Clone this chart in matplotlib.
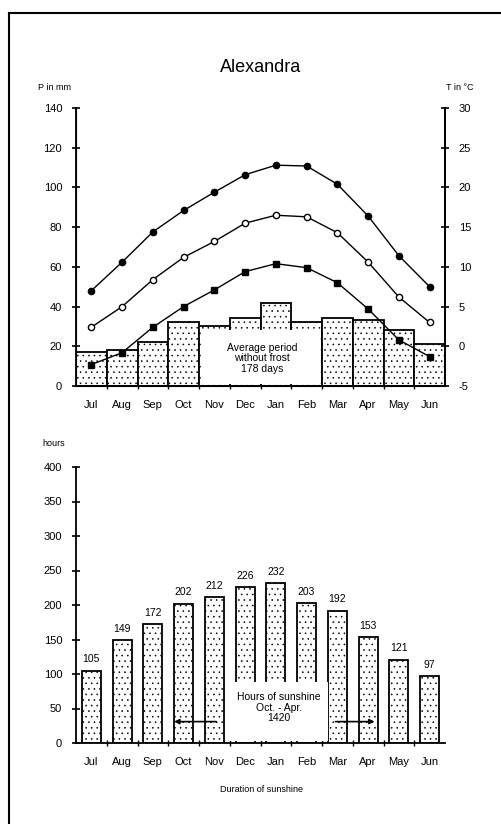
import numpy as np
import matplotlib.pyplot as plt
from matplotlib.lines import Line2D
from matplotlib.patches import Rectangle

plt.rcParams['font.family'] = ['Liberation Sans', 'DejaVu Sans']
plt.rcParams['axes.unicode_minus'] = False
plt.rcParams['hatch.color'] = '#a8a8a8'
plt.rcParams['hatch.linewidth'] = 0.4

# Data
months = ["Jul", "Aug", "Sep", "Oct", "Nov", "Dec", "Jan", "Feb", "Mar", "Apr", "May", "Jun"]
precip = [17, 18, 22, 32, 30, 34, 42, 32, 34, 33, 28, 21]          # mm
t_max = [7.0, 10.6, 14.4, 17.1, 19.4, 21.6, 22.8, 22.7, 20.4, 16.4, 11.4, 7.5]
t_mean = [2.4, 5.0, 8.4, 11.2, 13.2, 15.5, 16.5, 16.3, 14.3, 10.6, 6.2, 3.0]
t_min = [-2.3, -0.8, 2.4, 5.0, 7.1, 9.4, 10.4, 9.9, 8.0, 4.7, 0.8, -1.3]
sunshine = [105, 149, 172, 202, 212, 226, 232, 203, 192, 153, 121, 97]  # hours

x = np.arange(len(months))

W, H = 501, 824
fig = plt.figure(figsize=(W / 100, H / 100), dpi=100)

def fx(px):
    return px / W

def fy(py):
    return 1 - py / H

# outer frame (left and top edges only visible)
fig.add_artist(Line2D([fx(9), fx(9)], [fy(13), 0], color='black', lw=1.5))
fig.add_artist(Line2D([fx(9), 1], [fy(13), fy(13)], color='black', lw=1.5))

def style_axis(ax, boundaries):
    ax.set_xlim(-0.5, 11.5)
    ax.spines['top'].set_visible(False)
    for s in ax.spines.values():
        s.set_linewidth(1.3)
    ax.set_xticks(x)
    ax.set_xticklabels(months, fontsize=8)
    ax.tick_params(axis='x', which='major', length=0, pad=10)
    ax.set_xticks(boundaries, minor=True)
    ax.tick_params(axis='x', which='minor', length=5, direction='inout', width=1)
    ax.tick_params(axis='y', direction='inout', length=6, width=1.2, labelsize=8, pad=7)

# ---------------- climate chart ----------------
ax1 = fig.add_axes([fx(76), fy(386), fx(445 - 76), (386 - 108) / H])
ax1.bar(x, precip, width=1.0, color='white', edgecolor='black', linewidth=1.3,
        hatch='...', zorder=2)
ax1.set_ylim(0, 140)
ax1.set_yticks(np.arange(0, 141, 20))
style_axis(ax1, np.arange(0.5, 11.5, 1))

ax1.add_patch(Rectangle((3.55, 0.8), 3.9, 27.6, facecolor='white', edgecolor='none', zorder=3))
ax1.text(5.55, 14, "Average period\nwithout frost\n178 days", ha='center', va='center',
         fontsize=7.5, linespacing=1.05, zorder=4)

ax2 = ax1.twinx()
ax2.set_ylim(-5, 30)
ax2.set_yticks(np.arange(-5, 31, 5))
ax2.spines['top'].set_visible(False)
ax2.spines['right'].set_linewidth(1.3)
ax2.tick_params(axis='y', direction='inout', length=6, width=1.2, labelsize=8, pad=7)
ax2.plot(x, t_max, color='black', lw=1, marker='o', ms=4.5, mfc='black', zorder=5)
ax2.plot(x, t_mean, color='black', lw=1, marker='o', ms=4.5, mfc='white', mec='black', zorder=5)
ax2.plot(x, t_min, color='black', lw=1, marker='s', ms=4.5, mfc='black', zorder=5)

fig.text(fx(261), fy(67), "Alexandra", ha='center', va='center', fontsize=13)
fig.text(fx(38), fy(87), "P in mm", ha='left', va='center', fontsize=6.5)
fig.text(fx(474), fy(87), "T in °C", ha='right', va='center', fontsize=6.5)

# ---------------- sunshine chart ----------------
ax3 = fig.add_axes([fx(76), fy(743), fx(445 - 76), (743 - 467) / H])
ax3.bar(x, sunshine, width=0.62, color='white', edgecolor='black', linewidth=1.3,
        hatch='...', zorder=2)
ax3.set_ylim(0, 400)
ax3.set_yticks(np.arange(0, 401, 50))
ax3.spines['right'].set_visible(False)
style_axis(ax3, np.arange(0.5, 11.5, 1))

for xi, v in zip(x, sunshine):
    ax3.text(xi, v + 9, str(v), ha='center', va='bottom', fontsize=7.5)

ax3.add_patch(Rectangle((4.35, 3), 3.35, 86, facecolor='white', edgecolor='none', zorder=3))
ax3.text(6.1, 51, "Hours of sunshine\nOct. - Apr.\n1420", ha='center', va='center',
         fontsize=7.5, linespacing=1.05, zorder=4)
ax3.annotate("", xy=(2.6, 31), xytext=(4.15, 31), zorder=4,
             arrowprops=dict(arrowstyle='-|>', color='black', lw=1.2, mutation_scale=7))
ax3.annotate("", xy=(9.3, 31), xytext=(7.85, 31), zorder=4,
             arrowprops=dict(arrowstyle='-|>', color='black', lw=1.2, mutation_scale=7))

fig.text(fx(42), fy(443), "hours", ha='left', va='center', fontsize=6.5)
fig.text(fx(261), fy(790), "Duration of sunshine", ha='center', va='center', fontsize=6.5)

fig.savefig("out.png", dpi=100)
